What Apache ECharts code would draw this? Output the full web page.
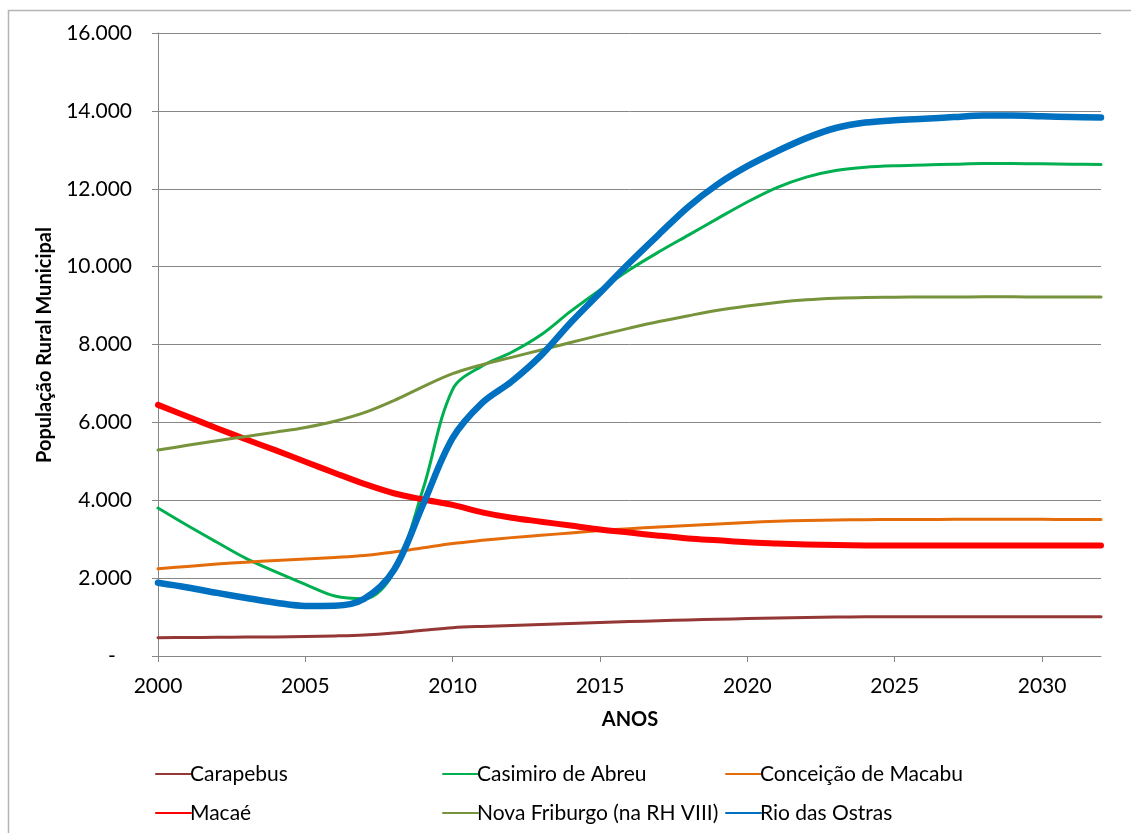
<!DOCTYPE html>
<html>
<head>
<meta charset="utf-8">
<title>População Rural Municipal</title>
<script src="https://cdn.jsdelivr.net/npm/echarts@6/dist/echarts.min.js"></script>
<style>
  html, body { margin: 0; padding: 0; background: #ffffff; }
  #chart { width: 1131px; height: 833px; }
</style>
</head>
<body>
<div id="chart"></div>
<script>
// Years on the horizontal axis
const years = [];
for (let y = 2000; y <= 2032; y++) years.push(String(y));

// Rural population per municipality (inhabitants), 2000–2032
const carapebus = [470, 475, 480, 485, 490, 500, 515, 540, 590, 660, 725, 760, 785, 810, 835, 860, 885, 905, 925, 945, 960, 975, 990, 1000, 1005, 1010, 1010, 1010, 1010, 1010, 1010, 1010, 1010];
const casimiroDeAbreu = [3800, 3350, 2920, 2500, 2160, 1840, 1540, 1470, 2150, 4300, 6850, 7450, 7800, 8250, 8850, 9400, 9920, 10380, 10810, 11240, 11660, 12030, 12300, 12470, 12550, 12590, 12610, 12630, 12650, 12650, 12640, 12630, 12620];
const conceicaoDeMacabu = [2240, 2300, 2360, 2410, 2450, 2490, 2530, 2580, 2670, 2780, 2890, 2970, 3040, 3100, 3160, 3220, 3270, 3310, 3350, 3390, 3430, 3460, 3480, 3495, 3500, 3505, 3505, 3510, 3510, 3510, 3510, 3505, 3505];
const macae = [6450, 6150, 5850, 5560, 5280, 4990, 4700, 4420, 4180, 4020, 3880, 3690, 3550, 3450, 3350, 3250, 3170, 3090, 3020, 2970, 2920, 2890, 2865, 2850, 2840, 2835, 2835, 2835, 2835, 2835, 2838, 2840, 2840];
const novaFriburgo = [5290, 5410, 5530, 5640, 5750, 5870, 6030, 6250, 6560, 6920, 7250, 7480, 7670, 7860, 8050, 8240, 8420, 8590, 8740, 8880, 8990, 9080, 9150, 9190, 9210, 9215, 9220, 9220, 9225, 9225, 9220, 9220, 9220];
const rioDasOstras = [1880, 1760, 1620, 1490, 1370, 1285, 1290, 1470, 2200, 3900, 5600, 6500, 7050, 7720, 8560, 9330, 10100, 10830, 11540, 12120, 12580, 12960, 13300, 13560, 13700, 13760, 13800, 13840, 13880, 13880, 13860, 13840, 13830];

// Series names as shown in the legend
const seriesNames = ['Carapebus', 'Casimiro de Abreu', 'Conceição de Macabu', 'Macaé', 'Nova Friburgo (na RH VIII)', 'Rio das Ostras'];
const seriesData = [carapebus, casimiroDeAbreu, conceicaoDeMacabu, macae, novaFriburgo, rioDasOstras];
const seriesColors = ['#953735', '#00b050', '#e46c0a', '#ff0000', '#77933c', '#0070c0'];
const seriesWidths = [3, 3, 3, 6, 3, 6.5];

// Y-axis tick labels: 16.000 style, zero shown as a dash
const yTickLabel = v => v === 0 ? '-   ' : v.toLocaleString('de-DE');

const FONT = 'Lato, "Open Sans", sans-serif';
const AXIS_GRAY = '#878787';

const chart = echarts.init(document.getElementById('chart'), null, { renderer: 'canvas' });

const series = seriesNames.map((name, i) => ({
  name: name,
  type: 'line',
  data: seriesData[i],
  smooth: 0.35,
  symbol: 'none',
  lineStyle: { color: seriesColors[i], width: seriesWidths[i], cap: 'round', join: 'round' },
  itemStyle: { color: seriesColors[i] },
  emphasis: { disabled: true },
  z: 2 + i
}));

// Three legend columns, two rows each; legend keys are plain line strokes
const legendCommon = {
  orient: 'vertical',
  top: 758,
  itemWidth: 35,
  itemHeight: 2,
  itemGap: 17,
  selectedMode: false,
  itemStyle: { opacity: 0 },
  textStyle: { fontFamily: FONT, fontSize: 21, color: '#000', lineHeight: 22, padding: [0, 0, 0, -6] }
};

const option = {
  backgroundColor: '#ffffff',
  animation: false,
  grid: { left: 158, top: 33, right: 30, bottom: 177, containLabel: false },
  legend: [
    Object.assign({}, legendCommon, { left: 150, data: ['Carapebus', 'Macaé'] }),
    Object.assign({}, legendCommon, { left: 437, data: ['Casimiro de Abreu', 'Nova Friburgo (na RH VIII)'] }),
    Object.assign({}, legendCommon, { left: 720, data: ['Conceição de Macabu', 'Rio das Ostras'] })
  ],
  xAxis: {
    type: 'category',
    data: years,
    boundaryGap: false,
    axisLine: { lineStyle: { color: AXIS_GRAY, width: 1 } },
    axisTick: { show: true, interval: 4, length: 6, inside: false, lineStyle: { color: AXIS_GRAY } },
    axisLabel: { interval: 4, margin: 20, fontFamily: FONT, fontSize: 21, color: '#000' },
    splitLine: { show: false }
  },
  yAxis: {
    type: 'value',
    min: 0,
    max: 16000,
    interval: 2000,
    axisLine: { show: true, lineStyle: { color: AXIS_GRAY, width: 1 } },
    axisTick: { show: true, length: 6, inside: false, lineStyle: { color: AXIS_GRAY } },
    axisLabel: { margin: 26, fontFamily: FONT, fontSize: 21, color: '#000', formatter: yTickLabel },
    splitLine: { show: true, lineStyle: { color: AXIS_GRAY, width: 1 } }
  },
  graphic: [
    {
      type: 'rect',
      silent: true,
      shape: { x: 8.5, y: 10.5, width: 1200, height: 900 },
      style: { fill: 'none', stroke: '#b4b4b4', lineWidth: 1.5 },
      z: -1
    },
    {
      type: 'text',
      silent: true,
      x: 45,
      y: 345,
      rotation: Math.PI / 2,
      style: {
        text: 'População Rural Municipal',
        font: 'bold 20px ' + FONT,
        fill: '#000',
        textAlign: 'center',
        textVerticalAlign: 'middle'
      }
    },
    {
      type: 'text',
      silent: true,
      x: 630,
      y: 720,
      style: {
        text: 'ANOS',
        font: 'bold 20px ' + FONT,
        fill: '#000',
        textAlign: 'center',
        textVerticalAlign: 'middle'
      }
    }
  ],
  series: series
};

chart.setOption(option);
</script>
</body>
</html>
